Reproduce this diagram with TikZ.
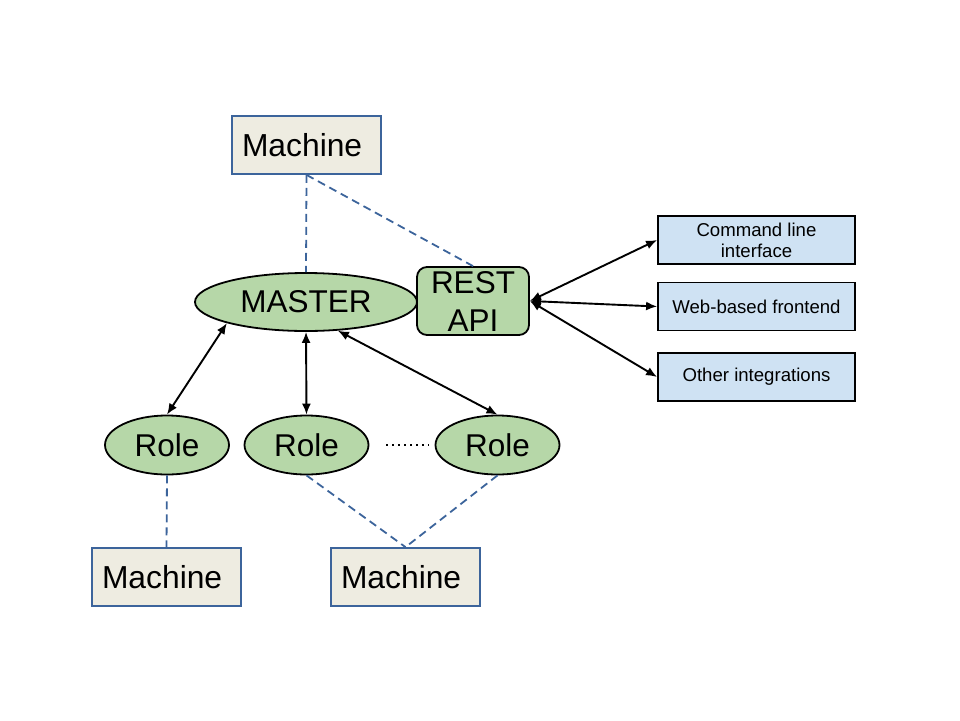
\documentclass[tikz,border=0pt]{standalone}
\usepackage{fontspec}
\setmainfont{Liberation Sans}
\usetikzlibrary{arrows.meta}
\usetikzlibrary{shapes.geometric}
\definecolor{machinefill}{HTML}{EEECE1}
\definecolor{machineline}{HTML}{3C649B}
\definecolor{rolegreen}{HTML}{B6D7A8}
\definecolor{clientblue}{HTML}{CFE2F3}

\begin{document}
\begin{tikzpicture}[x=1pt, y=-1pt,
    machine/.style={draw=machineline, fill=machinefill, line width=1.8pt, minimum height=58pt,
      text width=129pt, inner xsep=10pt, inner ysep=0pt, align=left, font=\fontsize{31.8}{37}\selectfont},
    role/.style={ellipse, draw, fill=rolegreen, line width=1.8pt, minimum width=124pt,
      minimum height=59pt, inner sep=0pt, font=\fontsize{31.5}{37}\selectfont},
    client/.style={draw, fill=clientblue, line width=1.8pt, minimum width=197pt, minimum height=48pt,
      inner sep=0pt, align=center, font=\fontsize{18.6}{21}\selectfont},
    link/.style={machineline, line width=1.8pt, dash pattern=on 8pt off 5pt},
    call/.style={{Latex[length=11pt,width=9pt]}-{Latex[length=11pt,width=9pt]}, line width=1.9pt}]
      \useasboundingbox (0,0) rectangle (960,720);

      \node[machine] (machtop) at (306.5,145) {Machine};
      \node[role, minimum width=222pt, minimum height=58pt] (master) at (306,302) {MASTER};
      \node[draw, fill=rolegreen, line width=1.8pt, rounded corners=10pt, minimum width=112pt,
        minimum height=68pt, inner sep=0pt, align=center, font=\fontsize{31.5}{38}\selectfont]
        (api) at (473,301) {REST\\API};

      \node[client] (cli) at (756.5,240) {Command line\\interface};
      \node[client] (web) at (756.5,306.5) {Web-based frontend};
      \node[client] (other) at (756.5,377) {Other integrations};

      \node[role] (roleA) at (167,445) {Role};
      \node[role] (roleB) at (306.5,445) {Role};
      \node[role] (roleC) at (497.5,445) {Role};

      \node[machine] (machleft) at (166.5,577) {Machine};
      \node[machine] (machright) at (405.5,577) {Machine};

      \draw[link] (machtop.south) -- (master.north);
      \draw[link] (machtop.south) -- (api.north);
      \draw[link] (roleA.south) -- (machleft.north);
      \draw[link] (roleB.south) -- (machright.north);
      \draw[link] (roleC.south) -- (machright.north);

      \draw[call] (master.south west) -- (roleA.north);
      \draw[call] (master.south) -- (roleB.north);
      \draw[call] (master.-42) -- (roleC.north);

      \draw[call] (api.east) -- (cli.west);
      \draw[call] (api.east) -- (web.west);
      \draw[call] (api.east) -- (other.west);

      \draw[line width=1.5pt, dash pattern=on 1.5pt off 4.5pt, shorten <=17pt, shorten >=6pt] (roleB.east) -- (roleC.west);
\end{tikzpicture}
\end{document}
